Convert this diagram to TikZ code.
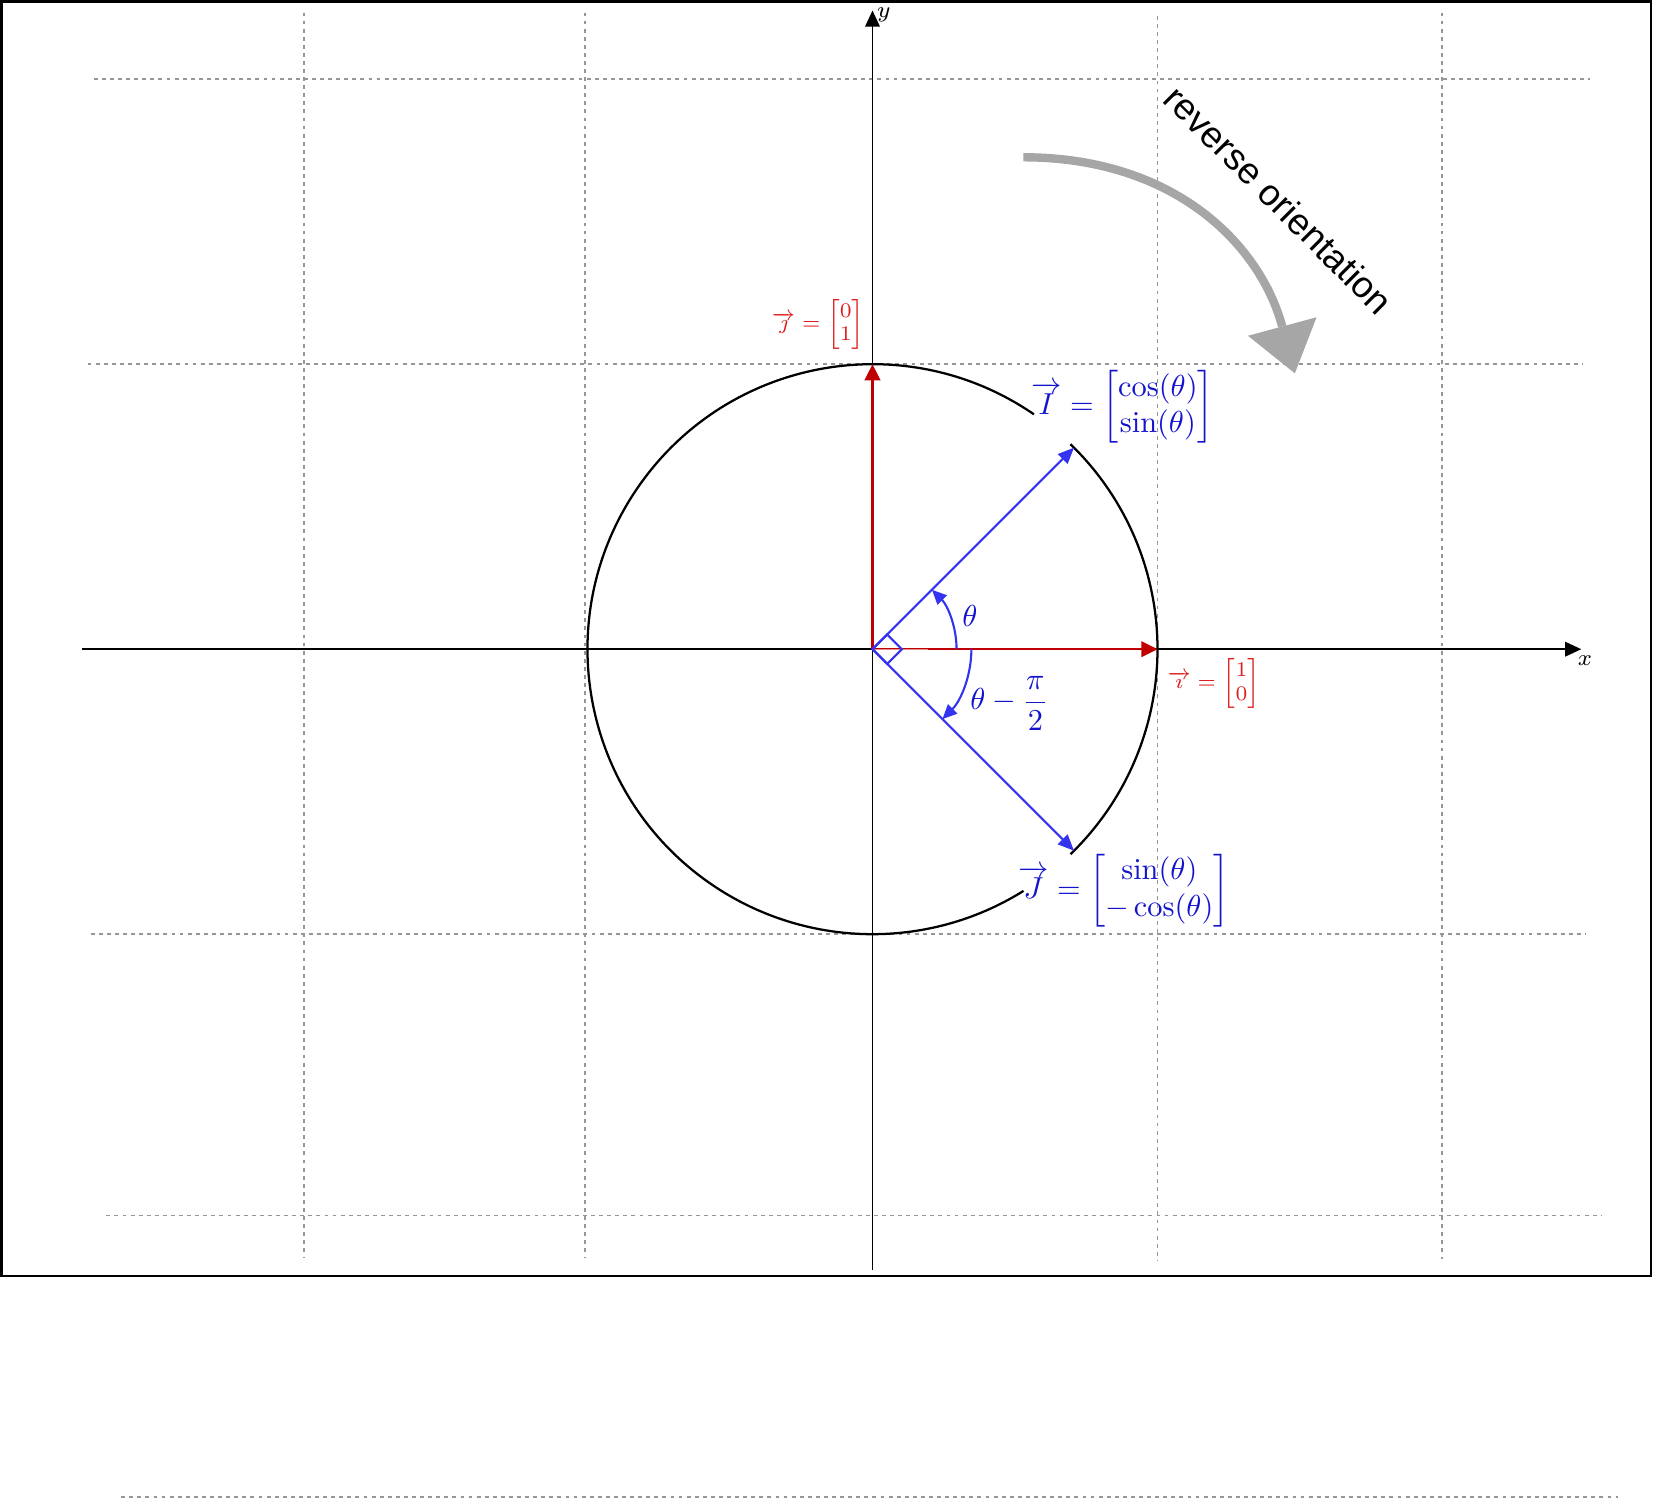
\documentclass[tikz,border=0pt]{standalone}
\usepackage{amsmath}
\usepackage{fontspec}
\newfontfamily\labelsans{Liberation Sans}
\usetikzlibrary{arrows.meta}
\definecolor{gridgray}{RGB}{150,150,150}
\definecolor{vecred}{RGB}{192,0,0}
\definecolor{txtred}{RGB}{220,30,30}
\definecolor{vecblue}{RGB}{51,51,240}
\definecolor{txtblue}{RGB}{20,20,205}
\definecolor{arrgray}{RGB}{166,166,166}
\begin{document}
\begin{tikzpicture}[x=3.1cm,y=3.1cm,
  gridline/.style={draw=gridgray, line width=0.6pt, dash pattern=on 1.2pt off 1.3pt},
  axisline/.style={draw=black, line width=0.6pt, -{Triangle[length=5pt,width=4.5pt]}},
  circline/.style={draw=black, line width=0.7pt},
  redvec/.style={draw=vecred, line width=0.8pt, -{Triangle[length=5pt,width=4.8pt]}},
  bluevec/.style={draw=vecblue, line width=0.65pt, -{Triangle[length=5pt,width=4.2pt]}},
  anglearc/.style={draw=vecblue, line width=0.65pt, -{Triangle[length=4.5pt,width=4pt]}},
  redlbl/.style={text=txtred, font=\scriptsize, inner sep=0pt},
  bluelbl/.style={text=txtblue, inner sep=0pt},
  axlbl/.style={font=\scriptsize, inner sep=0pt},
  bigarrow/.style={draw=arrgray, line width=2.6pt, -{Triangle[length=15pt,width=22pt,line width=0pt]}}
]
\useasboundingbox (-3.0614,-2.9818) rectangle (2.7386,2.2779);
% frame
\draw[line width=0.8pt] (-3.056,2.2726) rectangle (2.7316,-2.1993);
% horizontal grid lines
\draw[gridline] (-2.732,2.0) -- (2.517,2.0);
\draw[gridline] (-2.754,1.0) -- (2.494,1.0);
\draw[gridline] (-2.743,-1.0) -- (2.505,-1.0);
\draw[gridline] (-2.688,-1.987) -- (2.558,-1.987);
\draw[gridline] (-2.636,-2.975) -- (2.616,-2.975);
% vertical grid lines
\draw[gridline] (-1.996,2.234) -- (-1.996,-2.131);
\draw[gridline] (-1.008,2.234) -- (-1.008,-2.131);
\draw[gridline] (1.0,2.222) -- (1.0,-2.146);
\draw[gridline] (1.998,2.234) -- (1.998,-2.139);
% coordinates
\coordinate (O) at (0,0);
\coordinate (xl) at (-2.773,0);
\coordinate (xr) at (2.487,0);
\coordinate (yb) at (0,-2.178);
\coordinate (yt) at (0,2.241);
\coordinate (E1) at (1,0);
\coordinate (E2) at (0,1);
\coordinate (Iv) at (45:1);
\coordinate (Jv) at (-45:1);
% axes
\draw[axisline] (xl) -- (xr);
\draw[axisline] (yb) -- (yt);
\node[axlbl] (xlab) at (2.5,-0.04) {$x$};
\node[axlbl] (ylab) at (0.04,2.225) {$y$};
% circle with gaps
\draw[circline] (55.5:1) arc[start angle=55.5, end angle=302, radius=1];
\draw[circline] (-46:1) arc[start angle=-46, end angle=46, radius=1];
% red basis vectors
\draw[redvec] (O) -- (E1);
\draw[draw=vecred!45, line width=0.35pt] (O) -- (0.195,0);
\draw[redvec] (O) -- (E2);
% blue vectors
\draw[bluevec] (O) -- (Iv);
\draw[bluevec] (O) -- (Jv);
% right angle mark
\draw[draw=vecblue, line width=0.65pt] (O) -- (45:0.073) -- (0.1032,0) -- (-45:0.073) -- cycle;
% angle arcs
\draw[anglearc] (0.295,0) arc[start angle=0, end angle=45, radius=0.295];
\draw[anglearc] (0.347,0) arc[start angle=0, end angle=-45, radius=0.347];
% labels
\node[redlbl] (jlab) at (-0.19,1.14) {\scalebox{0.92}{$\overrightarrow{\jmath} = \begin{bmatrix}0\\1\end{bmatrix}$}};
\node[redlbl] (ilab) at (1.198,-0.121) {\scalebox{0.92}{$\overrightarrow{\imath} = \begin{bmatrix}1\\0\end{bmatrix}$}};
\node[bluelbl] (Ilab) at (0.877,0.85) {\scalebox{0.94}{$\overrightarrow{I} = \begin{bmatrix}\cos(\theta)\\ \sin(\theta)\end{bmatrix}$}};
\node[bluelbl] (Jlab) at (0.882,-0.848) {\scalebox{0.94}{$\overrightarrow{J} = \begin{bmatrix}\sin(\theta)\\ -\cos(\theta)\end{bmatrix}$}};
\node[bluelbl] (thlab) at (0.342,0.118) {\scalebox{0.94}{$\theta$}};
\node[bluelbl] (thplab) at (0.48,-0.19) {\scalebox{0.94}{$\theta-\dfrac{\pi}{2}$}};
% reverse orientation arrow
\coordinate (ga0) at (0.529,1.726);
\coordinate (gc1) at (1.06,1.726);
\coordinate (gc2) at (1.36,1.42);
\coordinate (ga1) at (1.482,0.968);
\draw[bigarrow] (ga0) .. controls (gc1) and (gc2) .. (ga1);
\node[rotate=-45, font=\labelsans\fontsize{11.4}{13}\selectfont, inner sep=0pt] (rev) at (1.426,1.577) {reverse orientation};
\end{tikzpicture}
\end{document}
